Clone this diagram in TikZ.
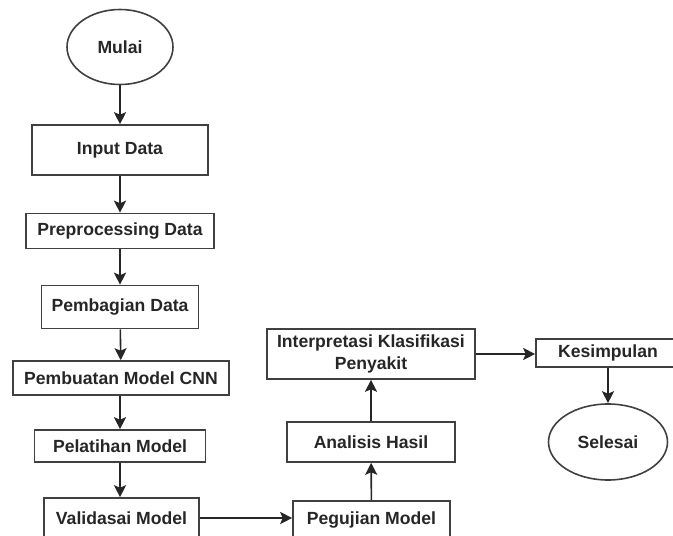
\documentclass[tikz,border=0pt]{standalone}
\usepackage{fontspec}
\setmainfont{Liberation Sans}
\usetikzlibrary{arrows.meta,shapes.geometric}
\begin{document}
\begin{tikzpicture}[x=1pt,y=-1pt,
  every node/.style={font=\fontsize{17.6}{22}\selectfont\bfseries, text=black!85, line width=1.6pt, draw=black!75, inner sep=0pt},
  procbox/.style={rectangle, minimum width=#1},
  startend/.style={ellipse},
  flow/.style={line width=1.6pt, draw=black!85, -{Stealth[length=12pt,width=12pt,inset=2.5pt]}}]
\useasboundingbox (0,0) rectangle (673,536);
\clip (0,0) rectangle (673,536);
\node[startend, minimum width=106, minimum height=75] (mulai) at (120,47) {Mulai};
\node[procbox=176, minimum height=50] (input) at (120,150) {Input Data};
\node[procbox=188, minimum height=35] (pre) at (120,231) {Preprocessing Data};
\node[procbox=157, minimum height=43] (bagi) at (120,307) {Pembagian Data};
\node[procbox=216, minimum height=34] (buat) at (121,378) {Pembuatan Model CNN};
\node[procbox=171, minimum height=32] (latih) at (120,446) {Pelatihan Model};
\node[procbox=155, minimum height=40] (valid) at (121.5,518) {Validasai Model};
\node[procbox=157, minimum height=38] (uji) at (371.5,520) {Pegujian Model};
\node[procbox=168, minimum height=40] (analisis) at (371,442) {Analisis Hasil};
\node[procbox=208, minimum height=50, align=center] (interp) at (371,354) {Interpretasi Klasifikasi\\Penyakit};
\node[procbox=144, minimum height=28] (kes) at (608,353) {Kesimpulan};
\node[startend, minimum width=119, minimum height=76] (selesai) at (608,442) {Selesai};
\draw[flow] (mulai) -- (input);
\draw[flow] (input) -- (pre);
\draw[flow] (pre) -- (bagi);
\draw[flow] (bagi) -- (buat);
\draw[flow] (buat.south -| latih.north) -- (latih);
\draw[flow] (latih) -- (valid.north -| latih.south);
\draw[flow] (valid.east) -- (valid.east -| uji.west);
\draw[flow] (uji) -- (analisis);
\draw[flow] (analisis) -- (interp);
\draw[flow] (interp.east) -- (interp.east -| kes.west);
\draw[flow] (kes) -- (selesai);
\end{tikzpicture}
\end{document}
